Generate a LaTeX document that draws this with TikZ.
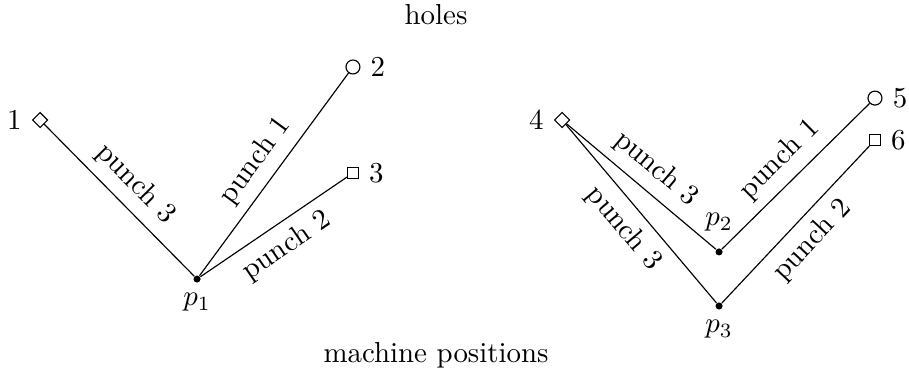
\documentclass[tikz,border=0pt]{standalone}
\usetikzlibrary{shapes.geometric}

\begin{document}
\begin{tikzpicture}[x=1in,y=1in,
  hole/.style={draw, fill=white, inner sep=0pt},
  holed/.style={hole, diamond, minimum size=0.074in, label=left:{#1}},
  holec/.style={hole, circle, minimum size=0.067in, label=right:{#1}},
  holes/.style={hole, rectangle, minimum size=0.052in, label=right:{#1}},
  machine/.style={circle, fill=black, inner sep=0pt, minimum size=0.034in},
  punch/.style={midway, sloped, font=\normalsize}]
\useasboundingbox (0,0) rectangle (4.3550,1.8110);
% titles
\node (ttl) at (2.0890,1.7390) {holes};
\node (btm) at (2.0890,0.1100) {machine positions};
% left group
\node[holed=1] (h1) at (0.1920,1.2360) {};
\node[holec=2] (h2) at (1.6910,1.4900) {};
\node[holes=3] (h3) at (1.6910,0.9820) {};
\node[machine, label=below:{$p_1$}] (p1) at (0.9440,0.4740) {};
\draw (h1) -- node[punch, above] {punch 3} (p1);
\draw (p1) -- node[punch, above] {punch 1} (h2);
\draw (p1) -- node[punch, below] {punch 2} (h3);
% right group
\node[holed=4] (h4) at (2.6930,1.2360) {};
\node[holec=5] (h5) at (4.1920,1.3410) {};
\node[holes=6] (h6) at (4.1920,1.1400) {};
\node[machine, label={[label distance=0.03in]above:{$p_2$}}] (p2) at (3.4450,0.6040) {};
\node[machine, label=below:{$p_3$}] (p3) at (3.4450,0.3450) {};
\draw (h4) -- node[punch, above] {punch 3} (p2);
\draw (p2) -- node[punch, above] {punch 1} (h5);
\draw (h4) -- node[punch, below] {punch 3} (p3);
\draw (p3) -- node[punch, below] {punch 2} (h6);
\end{tikzpicture}
\end{document}
